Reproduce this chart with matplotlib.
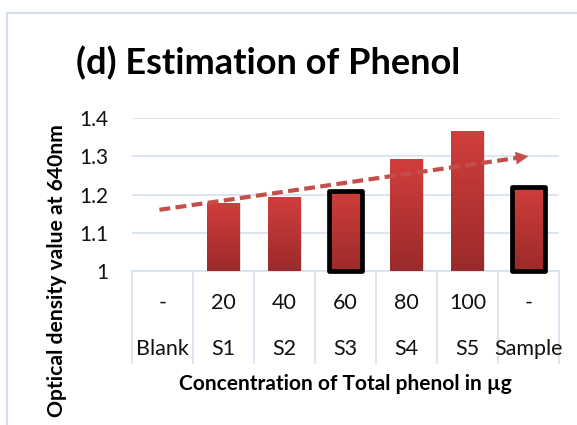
import matplotlib
matplotlib.use("Agg")
import matplotlib.pyplot as plt
import numpy as np
from matplotlib.colors import LinearSegmentedColormap
from matplotlib.patches import Rectangle
from matplotlib.transforms import blended_transform_factory
from matplotlib.lines import Line2D

# ---- data ----
categories = ["Blank", "S1", "S2", "S3", "S4", "S5", "Sample"]
concentrations = ["-", "20", "40", "60", "80", "100", "-"]
od_values = [1.0, 1.178, 1.193, 1.21, 1.292, 1.365, 1.22]
highlighted = ["S3", "Sample"]
trend_x = [-0.05, 6.0]
trend_y = [1.16, 1.30]
y_ticks = [1.0, 1.1, 1.2, 1.3, 1.4]
y_ticklabels = ["1", "1.1", "1.2", "1.3", "1.4"]

title = "(d) Estimation of Phenol"
xlabel = "Concentration of Total phenol in µg"
ylabel = "Optical density value at 640nm"

FONT = ["Lato", "DejaVu Sans"]
plt.rcParams["font.family"] = FONT
GRID = "#D5E0EE"
BORDER = "#D3DFEE"
TREND = "#C44E4C"

W, H = 577, 425
fig = plt.figure(figsize=(W / 100, H / 100), dpi=100)

def px(x0, y0, x1, y1):
    return [x0 / W, 1 - y1 / H, (x1 - x0) / W, (y1 - y0) / H]

ax = fig.add_axes(px(132, 118, 559, 271))
n = len(categories)
x = np.arange(n)
ax.set_xlim(-0.5, n - 0.5)
ax.set_ylim(1.0, 1.4)

# gridlines
for t in y_ticks:
    ax.axhline(t, color=GRID, lw=1.2, zorder=0)
for s in ax.spines.values():
    s.set_visible(False)
ax.set_xticks([])
ax.set_yticks(y_ticks)
ax.set_yticklabels(y_ticklabels, fontsize=15, color="#111111")
ax.tick_params(axis="y", length=0, pad=17)

# bars with gradient
cmap = LinearSegmentedColormap.from_list("redgrad", ["#9B2A2A", "#D13E3C"])
grad = np.linspace(0, 1, 256).reshape(-1, 1)
bw = 0.53
bars = ax.bar(x, [v - 1.0 for v in od_values], bottom=1.0, width=bw,
              color="#C13634", zorder=2)
for b, cat in zip(bars, categories):
    h = b.get_height()
    if h <= 0:
        continue
    x0 = b.get_x()
    sh = Rectangle((x0 + 0.03, 1.0), bw, h, facecolor="#000000", alpha=0.12,
                   zorder=1.5, edgecolor="none")
    ax.add_patch(sh)
    im = ax.imshow(grad, cmap=cmap, aspect="auto", origin="lower",
                   extent=(x0, x0 + bw, 1.0, 1.0 + h), zorder=2.1)
    im.set_clip_path(b)
    if cat in highlighted:
        ax.add_patch(Rectangle((x0, 1.0), bw, h, facecolor="none",
                               edgecolor="black", lw=3.4, zorder=3,
                               joinstyle="round", clip_on=False))
ax.set_xlim(-0.5, n - 0.5)
ax.set_ylim(1.0, 1.4)

# trend arrow
ax.plot(trend_x, trend_y, color=TREND, lw=3, dashes=(2.6, 1.3),
        solid_capstyle="butt", dash_capstyle="butt", zorder=4)
dx = trend_x[1] - trend_x[0]
dy = trend_y[1] - trend_y[0]
f = 0.95
ax.annotate("", xy=(trend_x[1], trend_y[1]),
            xytext=(trend_x[0] + f * dx, trend_y[0] + f * dy),
            arrowprops=dict(arrowstyle="-|>,head_length=0.9,head_width=0.45",
                            color=TREND, lw=0.1, shrinkA=0, shrinkB=0),
            zorder=5)

# data table beneath
tr = blended_transform_factory(ax.transData, ax.transAxes)
table_bottom = -(363 - 271) / 153
ax.add_line(Line2D([-0.5, n - 0.5], [0, 0], transform=tr, color=GRID, lw=1.2,
                   clip_on=False, zorder=1))
for b in np.arange(-0.5, n, 1.0):
    ax.add_line(Line2D([b, b], [0, table_bottom], transform=tr, color=GRID,
                       lw=1.2, clip_on=False))
row1 = -(303 - 271) / 153
row2 = -(349 - 271) / 153
for xi, c, lab in zip(x, concentrations, categories):
    ax.text(xi, row1, c, transform=tr, ha="center", va="center",
            fontsize=15.5, color="#111111")
    ax.text(xi, row2, lab, transform=tr, ha="center", va="center",
            fontsize=15.5, color="#111111")

ax.text((345 - 132) / 427, -(384 - 271) / 153, xlabel, transform=ax.transAxes,
        ha="center", va="center", fontsize=15, fontweight="bold")

fig.text(268 / W, 1 - 63 / H, title, ha="center", va="center",
         fontsize=26, fontweight="bold")
fig.text(57 / W, 1 - 124 / H, ylabel, ha="center", va="top", rotation=90,
         fontsize=15.2, fontweight="bold")

# chart border (partial, as cropped)
fig.add_artist(Line2D([7 / W, 1], [1 - 13 / H, 1 - 13 / H], color=BORDER,
                      lw=1.5, transform=fig.transFigure))
fig.add_artist(Line2D([7 / W, 7 / W], [0, 1 - 13 / H], color=BORDER,
                      lw=1.5, transform=fig.transFigure))

fig.savefig("out.png", dpi=100)
